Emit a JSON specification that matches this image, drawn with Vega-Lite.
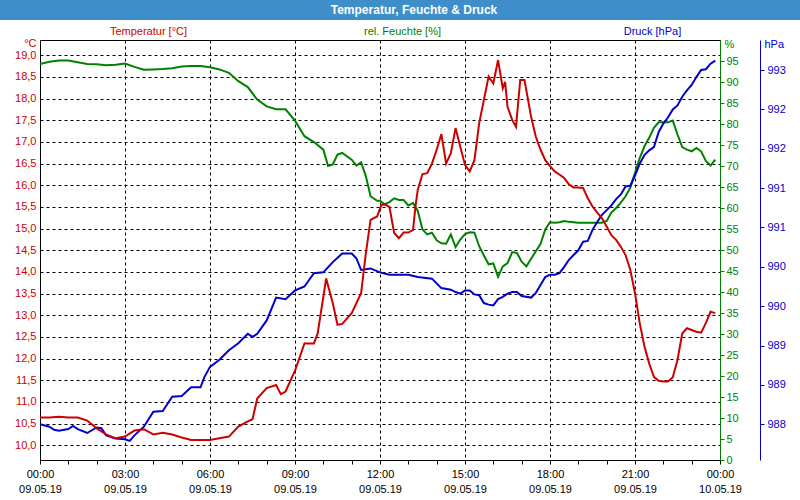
{
  "$schema": "https://vega.github.io/schema/vega-lite/v6.json",
  "padding": 0,
  "spacing": 20,
  "bounds": "flush",
  "config": {
    "font": "Liberation Sans",
    "axis": {"labelFont": "Liberation Sans", "labelFontSize": 11, "titleFont": "Liberation Sans", "titleFontSize": 11, "titleFontWeight": "normal"}
  },
  "datasets": {
    "temp": [
      {"time": "2019-05-09T00:00", "value": 10.64}, {"time": "2019-05-09T00:20", "value": 10.64}, {"time": "2019-05-09T00:40", "value": 10.66},
      {"time": "2019-05-09T01:00", "value": 10.64}, {"time": "2019-05-09T01:20", "value": 10.64}, {"time": "2019-05-09T01:40", "value": 10.57},
      {"time": "2019-05-09T02:00", "value": 10.39}, {"time": "2019-05-09T02:20", "value": 10.25}, {"time": "2019-05-09T02:40", "value": 10.16},
      {"time": "2019-05-09T03:00", "value": 10.2}, {"time": "2019-05-09T03:20", "value": 10.34}, {"time": "2019-05-09T03:40", "value": 10.37},
      {"time": "2019-05-09T04:00", "value": 10.25}, {"time": "2019-05-09T04:20", "value": 10.29}, {"time": "2019-05-09T04:40", "value": 10.25},
      {"time": "2019-05-09T05:00", "value": 10.18}, {"time": "2019-05-09T05:20", "value": 10.12}, {"time": "2019-05-09T05:40", "value": 10.12},
      {"time": "2019-05-09T06:00", "value": 10.12}, {"time": "2019-05-09T06:20", "value": 10.16}, {"time": "2019-05-09T06:40", "value": 10.2},
      {"time": "2019-05-09T07:00", "value": 10.43}, {"time": "2019-05-09T07:20", "value": 10.55}, {"time": "2019-05-09T07:30", "value": 10.6},
      {"time": "2019-05-09T07:40", "value": 11.08}, {"time": "2019-05-09T08:00", "value": 11.32}, {"time": "2019-05-09T08:20", "value": 11.39},
      {"time": "2019-05-09T08:30", "value": 11.18}, {"time": "2019-05-09T08:40", "value": 11.24}, {"time": "2019-05-09T09:00", "value": 11.72},
      {"time": "2019-05-09T09:20", "value": 12.35}, {"time": "2019-05-09T09:40", "value": 12.35}, {"time": "2019-05-09T09:48", "value": 12.58},
      {"time": "2019-05-09T10:06", "value": 13.85}, {"time": "2019-05-09T10:20", "value": 13.28}, {"time": "2019-05-09T10:30", "value": 12.78},
      {"time": "2019-05-09T10:40", "value": 12.8}, {"time": "2019-05-09T11:00", "value": 13.05}, {"time": "2019-05-09T11:20", "value": 13.51},
      {"time": "2019-05-09T11:30", "value": 14.43}, {"time": "2019-05-09T11:40", "value": 15.2}, {"time": "2019-05-09T11:54", "value": 15.28},
      {"time": "2019-05-09T12:03", "value": 15.55}, {"time": "2019-05-09T12:12", "value": 15.55}, {"time": "2019-05-09T12:20", "value": 15.5},
      {"time": "2019-05-09T12:30", "value": 14.9}, {"time": "2019-05-09T12:40", "value": 14.78}, {"time": "2019-05-09T12:50", "value": 14.91},
      {"time": "2019-05-09T13:00", "value": 14.91}, {"time": "2019-05-09T13:10", "value": 14.97}, {"time": "2019-05-09T13:15", "value": 15.5},
      {"time": "2019-05-09T13:20", "value": 15.9}, {"time": "2019-05-09T13:30", "value": 16.26}, {"time": "2019-05-09T13:40", "value": 16.28},
      {"time": "2019-05-09T13:50", "value": 16.5}, {"time": "2019-05-09T14:00", "value": 16.82}, {"time": "2019-05-09T14:10", "value": 17.18},
      {"time": "2019-05-09T14:20", "value": 16.5}, {"time": "2019-05-09T14:30", "value": 16.74}, {"time": "2019-05-09T14:40", "value": 17.32},
      {"time": "2019-05-09T14:50", "value": 16.89}, {"time": "2019-05-09T15:00", "value": 16.47}, {"time": "2019-05-09T15:10", "value": 16.32},
      {"time": "2019-05-09T15:20", "value": 16.58}, {"time": "2019-05-09T15:30", "value": 17.43}, {"time": "2019-05-09T15:40", "value": 17.97},
      {"time": "2019-05-09T15:50", "value": 18.51}, {"time": "2019-05-09T16:00", "value": 18.35}, {"time": "2019-05-09T16:10", "value": 18.89},
      {"time": "2019-05-09T16:20", "value": 18.24}, {"time": "2019-05-09T16:25", "value": 18.39}, {"time": "2019-05-09T16:30", "value": 17.81},
      {"time": "2019-05-09T16:40", "value": 17.51}, {"time": "2019-05-09T16:48", "value": 17.35}, {"time": "2019-05-09T16:57", "value": 18.43},
      {"time": "2019-05-09T17:06", "value": 18.43}, {"time": "2019-05-09T17:20", "value": 17.58}, {"time": "2019-05-09T17:30", "value": 17.12},
      {"time": "2019-05-09T17:40", "value": 16.82}, {"time": "2019-05-09T17:50", "value": 16.58}, {"time": "2019-05-09T18:00", "value": 16.44},
      {"time": "2019-05-09T18:10", "value": 16.32}, {"time": "2019-05-09T18:20", "value": 16.25}, {"time": "2019-05-09T18:30", "value": 16.17},
      {"time": "2019-05-09T18:40", "value": 16.02}, {"time": "2019-05-09T18:50", "value": 15.95}, {"time": "2019-05-09T19:00", "value": 15.95},
      {"time": "2019-05-09T19:10", "value": 15.94}, {"time": "2019-05-09T19:20", "value": 15.7}, {"time": "2019-05-09T19:30", "value": 15.51},
      {"time": "2019-05-09T19:40", "value": 15.37}, {"time": "2019-05-09T19:50", "value": 15.24}, {"time": "2019-05-09T20:00", "value": 15.05},
      {"time": "2019-05-09T20:10", "value": 14.85}, {"time": "2019-05-09T20:20", "value": 14.74}, {"time": "2019-05-09T20:30", "value": 14.58},
      {"time": "2019-05-09T20:40", "value": 14.39}, {"time": "2019-05-09T20:50", "value": 14.05}, {"time": "2019-05-09T21:00", "value": 13.51},
      {"time": "2019-05-09T21:10", "value": 12.82}, {"time": "2019-05-09T21:20", "value": 12.28}, {"time": "2019-05-09T21:30", "value": 11.89},
      {"time": "2019-05-09T21:40", "value": 11.58}, {"time": "2019-05-09T21:50", "value": 11.49}, {"time": "2019-05-09T22:00", "value": 11.47},
      {"time": "2019-05-09T22:10", "value": 11.47}, {"time": "2019-05-09T22:20", "value": 11.57}, {"time": "2019-05-09T22:30", "value": 11.97},
      {"time": "2019-05-09T22:40", "value": 12.58}, {"time": "2019-05-09T22:50", "value": 12.7}, {"time": "2019-05-09T23:00", "value": 12.66},
      {"time": "2019-05-09T23:10", "value": 12.62}, {"time": "2019-05-09T23:20", "value": 12.6}, {"time": "2019-05-09T23:30", "value": 12.82},
      {"time": "2019-05-09T23:40", "value": 13.08}, {"time": "2019-05-09T23:50", "value": 13.05}
    ],
    "hum": [
      {"time": "2019-05-09T00:00", "value": 94.3}, {"time": "2019-05-09T00:20", "value": 94.8}, {"time": "2019-05-09T00:40", "value": 95.1},
      {"time": "2019-05-09T01:00", "value": 95.1}, {"time": "2019-05-09T01:20", "value": 94.7}, {"time": "2019-05-09T01:40", "value": 94.3},
      {"time": "2019-05-09T02:00", "value": 94.2}, {"time": "2019-05-09T02:20", "value": 94.0}, {"time": "2019-05-09T02:40", "value": 94.1},
      {"time": "2019-05-09T03:00", "value": 94.4}, {"time": "2019-05-09T03:20", "value": 93.6}, {"time": "2019-05-09T03:40", "value": 92.9},
      {"time": "2019-05-09T04:00", "value": 93.0}, {"time": "2019-05-09T04:20", "value": 93.1}, {"time": "2019-05-09T04:40", "value": 93.3},
      {"time": "2019-05-09T05:00", "value": 93.7}, {"time": "2019-05-09T05:20", "value": 93.8}, {"time": "2019-05-09T05:40", "value": 93.8},
      {"time": "2019-05-09T06:00", "value": 93.5}, {"time": "2019-05-09T06:20", "value": 93.0}, {"time": "2019-05-09T06:40", "value": 92.2},
      {"time": "2019-05-09T07:00", "value": 90.2}, {"time": "2019-05-09T07:20", "value": 88.8}, {"time": "2019-05-09T07:40", "value": 85.8},
      {"time": "2019-05-09T08:00", "value": 84.2}, {"time": "2019-05-09T08:20", "value": 83.5}, {"time": "2019-05-09T08:40", "value": 83.5},
      {"time": "2019-05-09T09:00", "value": 80.8}, {"time": "2019-05-09T09:20", "value": 77.1}, {"time": "2019-05-09T09:40", "value": 75.7},
      {"time": "2019-05-09T10:00", "value": 73.9}, {"time": "2019-05-09T10:10", "value": 70.0}, {"time": "2019-05-09T10:20", "value": 70.4},
      {"time": "2019-05-09T10:30", "value": 72.7}, {"time": "2019-05-09T10:40", "value": 73.1}, {"time": "2019-05-09T11:00", "value": 71.5},
      {"time": "2019-05-09T11:10", "value": 70.1}, {"time": "2019-05-09T11:20", "value": 70.9}, {"time": "2019-05-09T11:30", "value": 67.6},
      {"time": "2019-05-09T11:40", "value": 62.8}, {"time": "2019-05-09T11:54", "value": 61.7}, {"time": "2019-05-09T12:00", "value": 61.7},
      {"time": "2019-05-09T12:10", "value": 60.9}, {"time": "2019-05-09T12:20", "value": 61.4}, {"time": "2019-05-09T12:30", "value": 62.3},
      {"time": "2019-05-09T12:40", "value": 61.9}, {"time": "2019-05-09T12:50", "value": 61.9}, {"time": "2019-05-09T13:00", "value": 60.6},
      {"time": "2019-05-09T13:10", "value": 61.2}, {"time": "2019-05-09T13:20", "value": 59.3}, {"time": "2019-05-09T13:30", "value": 54.9},
      {"time": "2019-05-09T13:40", "value": 53.7}, {"time": "2019-05-09T13:50", "value": 54.1}, {"time": "2019-05-09T14:00", "value": 52.3},
      {"time": "2019-05-09T14:10", "value": 51.6}, {"time": "2019-05-09T14:20", "value": 51.5}, {"time": "2019-05-09T14:30", "value": 53.7},
      {"time": "2019-05-09T14:40", "value": 50.7}, {"time": "2019-05-09T14:50", "value": 52.5}, {"time": "2019-05-09T15:00", "value": 53.8},
      {"time": "2019-05-09T15:10", "value": 54.2}, {"time": "2019-05-09T15:20", "value": 54.1}, {"time": "2019-05-09T15:30", "value": 50.9},
      {"time": "2019-05-09T15:40", "value": 48.7}, {"time": "2019-05-09T15:50", "value": 46.6}, {"time": "2019-05-09T16:00", "value": 46.8},
      {"time": "2019-05-09T16:10", "value": 43.6}, {"time": "2019-05-09T16:20", "value": 46.1}, {"time": "2019-05-09T16:30", "value": 46.9},
      {"time": "2019-05-09T16:40", "value": 49.5}, {"time": "2019-05-09T16:50", "value": 49.3}, {"time": "2019-05-09T17:00", "value": 47.2},
      {"time": "2019-05-09T17:10", "value": 46.1}, {"time": "2019-05-09T17:20", "value": 47.9}, {"time": "2019-05-09T17:30", "value": 49.7},
      {"time": "2019-05-09T17:40", "value": 51.5}, {"time": "2019-05-09T17:50", "value": 54.9}, {"time": "2019-05-09T18:00", "value": 56.6},
      {"time": "2019-05-09T18:10", "value": 56.5}, {"time": "2019-05-09T18:20", "value": 56.6}, {"time": "2019-05-09T18:30", "value": 56.9},
      {"time": "2019-05-09T18:40", "value": 56.7}, {"time": "2019-05-09T19:00", "value": 56.5}, {"time": "2019-05-09T19:30", "value": 56.5},
      {"time": "2019-05-09T19:50", "value": 56.5}, {"time": "2019-05-09T20:00", "value": 56.9}, {"time": "2019-05-09T20:10", "value": 58.9},
      {"time": "2019-05-09T20:20", "value": 60.0}, {"time": "2019-05-09T20:30", "value": 61.3}, {"time": "2019-05-09T20:40", "value": 62.8},
      {"time": "2019-05-09T20:50", "value": 64.8}, {"time": "2019-05-09T21:00", "value": 68.4}, {"time": "2019-05-09T21:10", "value": 71.9},
      {"time": "2019-05-09T21:20", "value": 74.7}, {"time": "2019-05-09T21:30", "value": 76.7}, {"time": "2019-05-09T21:40", "value": 79.1},
      {"time": "2019-05-09T21:50", "value": 80.4}, {"time": "2019-05-09T22:00", "value": 80.4}, {"time": "2019-05-09T22:10", "value": 80.4},
      {"time": "2019-05-09T22:20", "value": 80.8}, {"time": "2019-05-09T22:30", "value": 77.5}, {"time": "2019-05-09T22:40", "value": 74.5},
      {"time": "2019-05-09T22:50", "value": 73.9}, {"time": "2019-05-09T23:00", "value": 73.5}, {"time": "2019-05-09T23:10", "value": 74.3},
      {"time": "2019-05-09T23:20", "value": 73.5}, {"time": "2019-05-09T23:30", "value": 71.2}, {"time": "2019-05-09T23:40", "value": 70.1},
      {"time": "2019-05-09T23:50", "value": 71.5}
    ],
    "pres": [
      {"time": "2019-05-09T00:00", "value": 988.0}, {"time": "2019-05-09T00:20", "value": 987.97}, {"time": "2019-05-09T00:30", "value": 987.93},
      {"time": "2019-05-09T00:40", "value": 987.92}, {"time": "2019-05-09T01:00", "value": 987.94}, {"time": "2019-05-09T01:10", "value": 987.98},
      {"time": "2019-05-09T01:20", "value": 987.94}, {"time": "2019-05-09T01:40", "value": 987.89}, {"time": "2019-05-09T02:00", "value": 987.96},
      {"time": "2019-05-09T02:10", "value": 987.95}, {"time": "2019-05-09T02:20", "value": 987.86}, {"time": "2019-05-09T02:40", "value": 987.82},
      {"time": "2019-05-09T03:00", "value": 987.81}, {"time": "2019-05-09T03:10", "value": 987.79}, {"time": "2019-05-09T03:20", "value": 987.86},
      {"time": "2019-05-09T03:40", "value": 987.97}, {"time": "2019-05-09T04:00", "value": 988.16}, {"time": "2019-05-09T04:20", "value": 988.17},
      {"time": "2019-05-09T04:40", "value": 988.35}, {"time": "2019-05-09T05:00", "value": 988.36}, {"time": "2019-05-09T05:20", "value": 988.47},
      {"time": "2019-05-09T05:40", "value": 988.47}, {"time": "2019-05-09T05:48", "value": 988.6}, {"time": "2019-05-09T06:00", "value": 988.73},
      {"time": "2019-05-09T06:20", "value": 988.82}, {"time": "2019-05-09T06:40", "value": 988.94}, {"time": "2019-05-09T07:00", "value": 989.03},
      {"time": "2019-05-09T07:20", "value": 989.15}, {"time": "2019-05-09T07:30", "value": 989.11}, {"time": "2019-05-09T07:40", "value": 989.15},
      {"time": "2019-05-09T08:00", "value": 989.32}, {"time": "2019-05-09T08:20", "value": 989.61}, {"time": "2019-05-09T08:40", "value": 989.59},
      {"time": "2019-05-09T09:00", "value": 989.7}, {"time": "2019-05-09T09:20", "value": 989.75}, {"time": "2019-05-09T09:40", "value": 989.92},
      {"time": "2019-05-09T10:00", "value": 989.93}, {"time": "2019-05-09T10:20", "value": 990.06}, {"time": "2019-05-09T10:40", "value": 990.17},
      {"time": "2019-05-09T11:00", "value": 990.17}, {"time": "2019-05-09T11:10", "value": 990.11}, {"time": "2019-05-09T11:20", "value": 989.96},
      {"time": "2019-05-09T11:40", "value": 989.98}, {"time": "2019-05-09T12:00", "value": 989.93}, {"time": "2019-05-09T12:20", "value": 989.9},
      {"time": "2019-05-09T13:00", "value": 989.9}, {"time": "2019-05-09T13:20", "value": 989.87}, {"time": "2019-05-09T13:50", "value": 989.85},
      {"time": "2019-05-09T14:00", "value": 989.79}, {"time": "2019-05-09T14:10", "value": 989.73}, {"time": "2019-05-09T14:30", "value": 989.71},
      {"time": "2019-05-09T14:40", "value": 989.68}, {"time": "2019-05-09T14:50", "value": 989.66}, {"time": "2019-05-09T15:00", "value": 989.7},
      {"time": "2019-05-09T15:10", "value": 989.7}, {"time": "2019-05-09T15:20", "value": 989.65}, {"time": "2019-05-09T15:30", "value": 989.64},
      {"time": "2019-05-09T15:40", "value": 989.54}, {"time": "2019-05-09T15:50", "value": 989.52}, {"time": "2019-05-09T16:00", "value": 989.51},
      {"time": "2019-05-09T16:10", "value": 989.59}, {"time": "2019-05-09T16:20", "value": 989.62}, {"time": "2019-05-09T16:30", "value": 989.66},
      {"time": "2019-05-09T16:40", "value": 989.68}, {"time": "2019-05-09T16:50", "value": 989.68}, {"time": "2019-05-09T17:00", "value": 989.63},
      {"time": "2019-05-09T17:20", "value": 989.61}, {"time": "2019-05-09T17:30", "value": 989.67}, {"time": "2019-05-09T17:40", "value": 989.77},
      {"time": "2019-05-09T17:50", "value": 989.87}, {"time": "2019-05-09T18:00", "value": 989.9}, {"time": "2019-05-09T18:10", "value": 989.9},
      {"time": "2019-05-09T18:20", "value": 989.92}, {"time": "2019-05-09T18:30", "value": 990.0}, {"time": "2019-05-09T18:40", "value": 990.09},
      {"time": "2019-05-09T18:50", "value": 990.15}, {"time": "2019-05-09T19:00", "value": 990.21}, {"time": "2019-05-09T19:10", "value": 990.32},
      {"time": "2019-05-09T19:20", "value": 990.33}, {"time": "2019-05-09T19:30", "value": 990.47}, {"time": "2019-05-09T19:40", "value": 990.57},
      {"time": "2019-05-09T19:50", "value": 990.66}, {"time": "2019-05-09T20:00", "value": 990.72}, {"time": "2019-05-09T20:10", "value": 990.78},
      {"time": "2019-05-09T20:20", "value": 990.86}, {"time": "2019-05-09T20:30", "value": 990.92}, {"time": "2019-05-09T20:40", "value": 991.02},
      {"time": "2019-05-09T20:50", "value": 991.03}, {"time": "2019-05-09T21:00", "value": 991.16}, {"time": "2019-05-09T21:10", "value": 991.31},
      {"time": "2019-05-09T21:20", "value": 991.42}, {"time": "2019-05-09T21:30", "value": 991.48}, {"time": "2019-05-09T21:40", "value": 991.52},
      {"time": "2019-05-09T21:50", "value": 991.71}, {"time": "2019-05-09T22:00", "value": 991.82}, {"time": "2019-05-09T22:10", "value": 991.9},
      {"time": "2019-05-09T22:20", "value": 992.0}, {"time": "2019-05-09T22:30", "value": 992.05}, {"time": "2019-05-09T22:40", "value": 992.16},
      {"time": "2019-05-09T22:50", "value": 992.24}, {"time": "2019-05-09T23:00", "value": 992.31}, {"time": "2019-05-09T23:10", "value": 992.41},
      {"time": "2019-05-09T23:20", "value": 992.5}, {"time": "2019-05-09T23:30", "value": 992.51}, {"time": "2019-05-09T23:40", "value": 992.58},
      {"time": "2019-05-09T23:50", "value": 992.62}
    ],
    "heading": [{"label": "Temperatur, Feuchte & Druck"}],
    "blank": [{"label": ""}]
  },
  "vconcat": [
    {
      "width": 800,
      "height": 20,
      "view": {"fill": "#3d8ec9", "stroke": null},
      "data": {"name": "heading"},
      "mark": {"type": "text", "color": "white", "font": "Liberation Sans", "fontWeight": "bold", "fontSize": 12, "baseline": "middle", "align": "center", "dx": 14},
      "encoding": {"text": {"field": "label"}}
    },
    {
      "spacing": 0,
      "bounds": "flush",
      "hconcat": [
        {
          "width": 40,
          "height": 420,
          "view": {"stroke": null},
          "data": {"name": "blank"},
          "mark": {"type": "text"},
          "encoding": {"text": {"field": "label"}}
        },
        {
          "width": 680,
          "height": 420,
          "view": {"stroke": "black", "strokeWidth": 1, "fill": "white"},
          "resolve": {"scale": {"y": "independent"}, "axis": {"x": "independent", "y": "independent"}},
          "layer": [
            {
              "data": {"name": "hum"},
              "mark": {"type": "line", "color": "#008000", "strokeWidth": 2},
              "encoding": {
                "x": {
                  "field": "time", "type": "temporal",
                  "scale": {"domain": [{"year": 2019, "month": 5, "date": 9, "hours": 0}, {"year": 2019, "month": 5, "date": 10, "hours": 0}]},
                  "axis": {"orient": "top", "labels": false, "ticks": false, "domain": false, "grid": false,
                    "title": "rel. Feuchte [%]", "titleColor": "#008000", "titleX": 362, "titleY": -9, "titleAlign": "center", "titleBaseline": "middle", "titleAngle": 0}
                },
                "y": {
                  "field": "value", "type": "quantitative",
                  "scale": {"domain": [0, 100], "nice": false, "zero": false},
                  "axis": {"orient": "right", "values": [0, 5, 10, 15, 20, 25, 30, 35, 40, 45, 50, 55, 60, 65, 70, 75, 80, 85, 90, 95],
                    "domain": true, "domainColor": "#008000", "domainWidth": 1, "ticks": true, "tickColor": "#008000", "tickSize": 4,
                    "labelColor": "#008000", "labelPadding": 2, "labelOverlap": false, "grid": false,
                    "title": "%", "titleColor": "#008000", "titleAngle": 0, "titleX": 4, "titleY": 4, "titleAlign": "left", "titleBaseline": "middle"}
                }
              }
            },
            {
              "data": {"name": "pres"},
              "mark": {"type": "line", "color": "#0000cc", "strokeWidth": 2},
              "encoding": {
                "x": {
                  "field": "time", "type": "temporal",
                  "scale": {"domain": [{"year": 2019, "month": 5, "date": 9, "hours": 0}, {"year": 2019, "month": 5, "date": 10, "hours": 0}]},
                  "axis": {"orient": "top", "labels": false, "ticks": false, "domain": false, "grid": false,
                    "title": "Druck [hPa]", "titleColor": "#0000cc", "titleX": 612, "titleY": -9, "titleAlign": "center", "titleBaseline": "middle", "titleAngle": 0}
                },
                "y": {
                  "field": "value", "type": "quantitative",
                  "scale": {"domain": [987.547, 992.881], "nice": false, "zero": false},
                  "axis": {"orient": "right", "offset": 40, "values": [988, 988.5, 989, 989.5, 990, 990.5, 991, 991.5, 992, 992.5],
                    "labelExpr": "'' + round(datum.value)", "labelOverlap": false,
                    "domain": true, "domainColor": "#0000cc", "domainWidth": 1, "ticks": true, "tickColor": "#0000cc", "tickSize": 4,
                    "labelColor": "#0000cc", "labelPadding": 3, "grid": false,
                    "title": "hPa", "titleColor": "#0000cc", "titleAngle": 0, "titleX": 4, "titleY": 4, "titleAlign": "left", "titleBaseline": "middle"}
                }
              }
            },
            {
              "data": {"name": "temp"},
              "mark": {"type": "line", "color": "#cc0000", "strokeWidth": 2},
              "encoding": {
                "x": {
                  "field": "time", "type": "temporal",
                  "scale": {"domain": [{"year": 2019, "month": 5, "date": 9, "hours": 0}, {"year": 2019, "month": 5, "date": 10, "hours": 0}]},
                  "axis": {
                    "orient": "bottom",
                    "values": [
                      {"year": 2019, "month": 5, "date": 9, "hours": 0}, {"year": 2019, "month": 5, "date": 9, "hours": 1}, {"year": 2019, "month": 5, "date": 9, "hours": 2},
                      {"year": 2019, "month": 5, "date": 9, "hours": 3}, {"year": 2019, "month": 5, "date": 9, "hours": 4}, {"year": 2019, "month": 5, "date": 9, "hours": 5},
                      {"year": 2019, "month": 5, "date": 9, "hours": 6}, {"year": 2019, "month": 5, "date": 9, "hours": 7}, {"year": 2019, "month": 5, "date": 9, "hours": 8},
                      {"year": 2019, "month": 5, "date": 9, "hours": 9}, {"year": 2019, "month": 5, "date": 9, "hours": 10}, {"year": 2019, "month": 5, "date": 9, "hours": 11},
                      {"year": 2019, "month": 5, "date": 9, "hours": 12}, {"year": 2019, "month": 5, "date": 9, "hours": 13}, {"year": 2019, "month": 5, "date": 9, "hours": 14},
                      {"year": 2019, "month": 5, "date": 9, "hours": 15}, {"year": 2019, "month": 5, "date": 9, "hours": 16}, {"year": 2019, "month": 5, "date": 9, "hours": 17},
                      {"year": 2019, "month": 5, "date": 9, "hours": 18}, {"year": 2019, "month": 5, "date": 9, "hours": 19}, {"year": 2019, "month": 5, "date": 9, "hours": 20},
                      {"year": 2019, "month": 5, "date": 9, "hours": 21}, {"year": 2019, "month": 5, "date": 9, "hours": 22}, {"year": 2019, "month": 5, "date": 9, "hours": 23},
                      {"year": 2019, "month": 5, "date": 10, "hours": 0}
                    ],
                    "labelExpr": "hours(datum.value) % 3 === 0 ? [timeFormat(datum.value, '%H:%M'), timeFormat(datum.value, '%d.%m.%y')] : ''",
                    "labelColor": "black", "labelLineHeight": 15, "labelBaseline": "top", "labelPadding": 4, "labelAlign": "center",
                    "labelFlush": false, "labelOverlap": false, "labelAngle": 0,
                    "tickSize": 4, "tickColor": "black", "tickWidth": 1, "domain": false,
                    "grid": true, "gridColor": "black", "gridDash": [3, 3], "gridWidth": 1,
                    "gridOpacity": {"condition": {"test": "hours(datum.value) % 3 === 0 && hours(datum.value) > 0", "value": 1}, "value": 0},
                    "title": "Temperatur [°C]", "titleColor": "#cc0000", "titleX": 108, "titleY": -429, "titleAlign": "center", "titleBaseline": "middle", "titleAngle": 0
                  }
                },
                "y": {
                  "field": "value", "type": "quantitative",
                  "scale": {"domain": [9.66, 19.353], "nice": false, "zero": false},
                  "axis": {"orient": "left", "values": [10, 10.5, 11, 11.5, 12, 12.5, 13, 13.5, 14, 14.5, 15, 15.5, 16, 16.5, 17, 17.5, 18, 18.5, 19],
                    "labelExpr": "replace(format(datum.value, '.1f'), '.', ',')", "labelOverlap": false,
                    "labelColor": "#cc0000", "labelPadding": 4, "ticks": false, "domain": false,
                    "grid": true, "gridColor": "black", "gridDash": [3, 3], "gridWidth": 1,
                    "title": "°C", "titleColor": "#cc0000", "titleAngle": 0, "titleX": -4, "titleY": 3, "titleAlign": "right", "titleBaseline": "middle"}
                }
              }
            }
          ]
        }
      ]
    }
  ]
}
